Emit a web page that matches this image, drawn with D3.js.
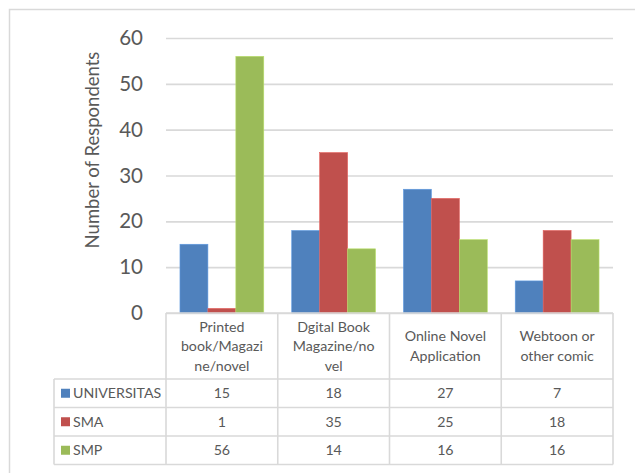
<!DOCTYPE html>
<html>
<head>
<meta charset="utf-8">
<script src="https://cdn.jsdelivr.net/npm/d3@7"></script>
<style>
  body { margin: 0; background: #fff; }
  svg { display: block; }
  text { font-family: Lato, "Open Sans", sans-serif; fill: #595959; }
</style>
</head>
<body>
<svg id="chart" width="635" height="473"></svg>
<script>
// Reading-media preference by school level
const categories = [
  ["Printed", "book/Magazi", "ne/novel"],
  ["Dgital Book", "Magazine/no", "vel"],
  ["Online Novel", "Application"],
  ["Webtoon or", "other comic"]
];
const seriesNames = ["UNIVERSITAS", "SMA", "SMP"];
const universitas = [15, 18, 27, 7];
const sma = [1, 35, 25, 18];
const smp = [56, 14, 16, 16];
const seriesColors = ["#4f81bd", "#c0504d", "#9bbb59"];
const yTicks = [0, 10, 20, 30, 40, 50, 60];

const series = [universitas, sma, smp];

const svg = d3.select("#chart");
const plotLeft = 166, plotRight = 613, plotTop = 38, plotBottom = 313;
const gridColor = "#d9d9d9";

// outer frame
svg.append("rect")
  .attr("x", 9.5).attr("y", 9.5).attr("width", 640).attr("height", 480)
  .attr("fill", "none").attr("stroke", gridColor).attr("stroke-width", 1.5);

const x = d3.scaleBand().domain(d3.range(categories.length)).range([plotLeft, plotRight]);
const xInner = d3.scaleBand().domain(d3.range(series.length))
  .range([0, x.bandwidth()]).paddingOuter(0.5).paddingInner(0);
const y = d3.scaleLinear().domain([0, 60]).range([plotBottom, plotTop]);

// gridlines + tick labels
const yAxis = d3.axisLeft(y).tickValues(yTicks).tickSize(-(plotRight - plotLeft)).tickPadding(23);
const gy = svg.append("g").attr("transform", `translate(${plotLeft},0)`).call(yAxis);
gy.select(".domain").remove();
gy.selectAll(".tick line").attr("stroke", gridColor).attr("stroke-width", 1.6);
gy.selectAll(".tick text")
  .attr("font-size", 20.5).attr("fill", "#595959")
  .attr("font-family", "Lato, 'Open Sans', sans-serif");

// axis title
svg.append("text")
  .attr("transform", "translate(99,150) rotate(-90)")
  .attr("text-anchor", "middle")
  .attr("font-size", 18.5)
  .text("Number of Respondents");

// bars
series.forEach((vals, si) => {
  svg.append("g").selectAll("rect").data(vals).join("rect")
    .attr("x", (d, i) => x(i) + xInner(si))
    .attr("y", d => y(d))
    .attr("width", xInner.bandwidth())
    .attr("height", d => y(0) - y(d))
    .attr("fill", seriesColors[si])
    .attr("stroke", d3.color(seriesColors[si]).brighter(0.5))
    .attr("stroke-width", 0.6);
});

// data table
const headerBottom = 379;
const rowH = 28.5;
const tableBottom = headerBottom + rowH * series.length;
const legendLeft = 54;
const tbl = svg.append("g").attr("stroke", gridColor).attr("stroke-width", 1.6).attr("fill", "none");

// baseline under bars
tbl.append("line").attr("x1", plotLeft).attr("x2", plotRight).attr("y1", plotBottom).attr("y2", plotBottom);
// vertical dividers
d3.range(categories.length + 1).forEach(i => {
  const xv = i < categories.length ? x(i) : plotRight;
  tbl.append("line").attr("x1", xv).attr("x2", xv).attr("y1", plotBottom).attr("y2", tableBottom);
});
tbl.append("line").attr("x1", legendLeft).attr("x2", legendLeft).attr("y1", headerBottom).attr("y2", tableBottom);
// horizontal dividers
d3.range(series.length + 1).forEach(r => {
  const yv = headerBottom + r * rowH;
  tbl.append("line").attr("x1", legendLeft).attr("x2", plotRight).attr("y1", yv).attr("y2", yv);
});

// category headers
categories.forEach((lines, i) => {
  const cx = x(i) + x.bandwidth() / 2;
  const lh = 19.5;
  const startY = (plotBottom + headerBottom) / 2 - (lines.length - 1) * lh / 2 + 5;
  const t = svg.append("text").attr("text-anchor", "middle").attr("font-size", 14.2);
  lines.forEach((ln, k) => {
    t.append("tspan").attr("x", cx).attr("y", startY + k * lh).text(ln);
  });
});

// rows: legend keys + values
series.forEach((vals, si) => {
  const cy = headerBottom + si * rowH + rowH / 2;
  svg.append("rect")
    .attr("x", 61).attr("y", cy - 4.5).attr("width", 9).attr("height", 9)
    .attr("fill", seriesColors[si]);
  svg.append("text").attr("x", 73).attr("y", cy + 5).attr("font-size", 14.2).text(seriesNames[si]);
  vals.forEach((v, i) => {
    svg.append("text")
      .attr("x", x(i) + x.bandwidth() / 2).attr("y", cy + 5)
      .attr("text-anchor", "middle").attr("font-size", 14.2)
      .text(v);
  });
});
</script>
</body>
</html>
